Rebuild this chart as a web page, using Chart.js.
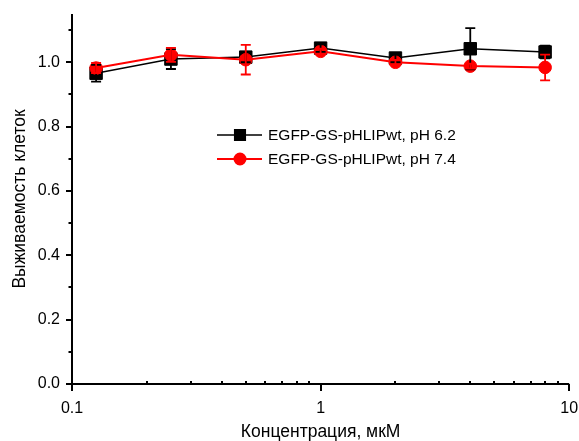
<!DOCTYPE html>
<html>
<head>
<meta charset="utf-8">
<script src="https://cdn.jsdelivr.net/npm/chart.js@4.4.1/dist/chart.umd.min.js"></script>
<style>
  html, body { margin: 0; padding: 0; background: #fff; }
</style>
</head>
<body>
<canvas id="grafico" width="579" height="441"></canvas>
<script>
// Datos
const concentraciones = [0.125, 0.25, 0.5, 1, 2, 4, 8];
const viabilidad62 = [0.966, 1.010, 1.016, 1.044, 1.013, 1.042, 1.032];
const error62 = [0.026, 0.031, 0.016, 0.012, 0.013, 0.064, 0.020];
const viabilidad74 = [0.982, 1.023, 1.008, 1.034, 1.000, 0.988, 0.984];
const error74 = [0.016, 0.022, 0.046, 0.008, 0.007, 0.008, 0.040];

const nombres = ["EGFP-GS-pHLIPwt, pH 6.2", "EGFP-GS-pHLIPwt, pH 7.4"];

const ticksX = [0.1, 0.2, 0.3, 0.4, 0.5, 0.6, 0.7, 0.8, 0.9, 1, 2, 3, 4, 5, 6, 7, 8, 9, 10];
const etiquetasX = [0.1, 1, 10];
const ticksY = [0, 0.1, 0.2, 0.3, 0.4, 0.5, 0.6, 0.7, 0.8, 0.9, 1.0, 1.1];
const etiquetasY = [0, 0.2, 0.4, 0.6, 0.8, 1.0];

Chart.defaults.font.family = "'Liberation Sans', Arial, sans-serif";
Chart.defaults.color = "#000";

function puntos(valores) {
  return concentraciones.map((c, i) => ({ x: c, y: valores[i] }));
}

// Ejes con marcas mayores hacia fuera y menores
const pluginEjes = {
  id: "ejes",
  beforeDatasetsDraw(chart) {
    const ctx = chart.ctx;
    const area = chart.chartArea;
    const sx = chart.scales.x;
    const sy = chart.scales.y;
    ctx.save();
    ctx.strokeStyle = "#000";
    ctx.lineWidth = 2;
    ctx.beginPath();
    ctx.moveTo(area.left, area.top);
    ctx.lineTo(area.left, area.bottom);
    ctx.moveTo(area.left - 1, area.bottom);
    ctx.lineTo(area.right, area.bottom);
    ctx.stroke();

    ctx.beginPath();
    ticksY.forEach((v) => {
      const py = Math.round(sy.getPixelForValue(v));
      const largo = etiquetasY.includes(v) ? 6 : 3.5;
      ctx.moveTo(area.left - largo, py);
      ctx.lineTo(area.left, py);
    });
    ticksX.forEach((v) => {
      const px = Math.round(sx.getPixelForValue(v));
      if (etiquetasX.includes(v)) {
        ctx.moveTo(px, area.bottom);
        ctx.lineTo(px, area.bottom + 7);
      } else {
        ctx.moveTo(px, area.bottom);
        ctx.lineTo(px, area.bottom - 3);
      }
    });
    ctx.stroke();
    ctx.restore();
  },
};

// Barras de error encima de todo
const pluginErrores = {
  id: "errores",
  afterDatasetsDraw(chart) {
    const ctx = chart.ctx;
    const sx = chart.scales.x;
    const sy = chart.scales.y;
    ctx.save();
    chart.data.datasets.forEach((ds) => {
      ctx.strokeStyle = ds.borderColor;
      ctx.lineWidth = 1.8;
      ds.errores.forEach((e, i) => {
        const px = sx.getPixelForValue(concentraciones[i]);
        const v = ds.data[i].y;
        const arriba = sy.getPixelForValue(v + e);
        const abajo = sy.getPixelForValue(v - e);
        ctx.beginPath();
        ctx.moveTo(px, arriba);
        ctx.lineTo(px, abajo);
        ctx.moveTo(px - 5, arriba);
        ctx.lineTo(px + 5, arriba);
        ctx.moveTo(px - 5, abajo);
        ctx.lineTo(px + 5, abajo);
        ctx.stroke();
      });
    });
    ctx.restore();
  },
};

// Leyenda dentro del área del gráfico
const pluginLeyenda = {
  id: "leyenda",
  afterDraw(chart) {
    const ctx = chart.ctx;
    const area = chart.chartArea;
    const x0 = area.left + 145;
    const y0 = area.top + 121;
    ctx.save();
    chart.data.datasets.forEach((ds, i) => {
      const y = y0 + i * 24;
      ctx.strokeStyle = ds.borderColor;
      ctx.lineWidth = ds.borderWidth;
      ctx.beginPath();
      ctx.moveTo(x0, y);
      ctx.lineTo(x0 + 45, y);
      ctx.stroke();
      ctx.fillStyle = ds.backgroundColor;
      Chart.helpers.drawPoint(ctx, {
        pointStyle: ds.pointStyle,
        radius: ds.pointStyle === "rect" ? 7.5 : 5.5,
        borderWidth: 1,
        rotation: 0,
      }, x0 + 23, y);
      ctx.fillStyle = "#000";
      ctx.font = "15.5px 'Liberation Sans', Arial, sans-serif";
      ctx.textBaseline = "middle";
      ctx.fillText(ds.label, x0 + 51, y + 1);
    });
    ctx.restore();
  },
};

const ctx = document.getElementById("grafico").getContext("2d");
const grafico = new Chart(ctx, {
  type: "line",
  data: {
    datasets: [
      {
        label: nombres[0],
        data: puntos(viabilidad62),
        errores: error62,
        borderColor: "#000",
        backgroundColor: "#000",
        borderWidth: 1.5,
        pointStyle: "rect",
        pointRadius: 8.8,
        pointBorderWidth: 1,
        order: 1,
      },
      {
        label: nombres[1],
        data: puntos(viabilidad74),
        errores: error74,
        borderColor: "#ff0000",
        backgroundColor: "#ff0000",
        borderWidth: 2,
        pointStyle: "circle",
        pointRadius: 6.3,
        pointBorderWidth: 1,
        order: 0,
      },
    ],
  },
  options: {
    responsive: false,
    animation: false,
    layout: { padding: { top: 14, right: 9, left: 0, bottom: 0 } },
    plugins: { legend: { display: false }, tooltip: { enabled: false } },
    scales: {
      x: {
        type: "logarithmic",
        position: "bottom",
        min: 0.1,
        max: 10,
        grid: { display: false, drawTicks: false },
        border: { display: false },
        afterBuildTicks: (s) => { s.ticks = ticksX.map((v) => ({ value: v })); },
        afterFit: (s) => {
          s.height = 57;
          s.paddingLeft = 0;
          s.paddingRight = 0;
        },
        ticks: {
          autoSkip: false,
          maxRotation: 0,
          padding: 15,
          font: { size: 16 },
          callback: (v) => (etiquetasX.includes(v) ? String(v) : ""),
        },
        title: {
          display: true,
          text: "Концентрация, мкМ",
          font: { size: 17.5, lineHeight: 1 },
          padding: { top: 0, bottom: 0 },
        },
      },
      y: {
        min: 0,
        max: 1.15,
        grid: { display: false, drawTicks: false },
        border: { display: false },
        afterBuildTicks: (s) => { s.ticks = ticksY.map((v) => ({ value: v })); },
        afterFit: (s) => {
          s.width = 72;
          s.paddingTop = 0;
          s.paddingBottom = 0;
        },
        ticks: {
          autoSkip: false,
          padding: 12,
          font: { size: 16 },
          callback: (v) => (etiquetasY.includes(v) ? v.toFixed(1) : ""),
        },
        title: {
          display: true,
          text: "Выживаемость клеток",
          font: { size: 17.5, lineHeight: 1 },
          padding: { top: 11, bottom: 0 },
        },
      },
    },
  },
  plugins: [pluginEjes, pluginErrores, pluginLeyenda],
});
</script>
</body>
</html>
